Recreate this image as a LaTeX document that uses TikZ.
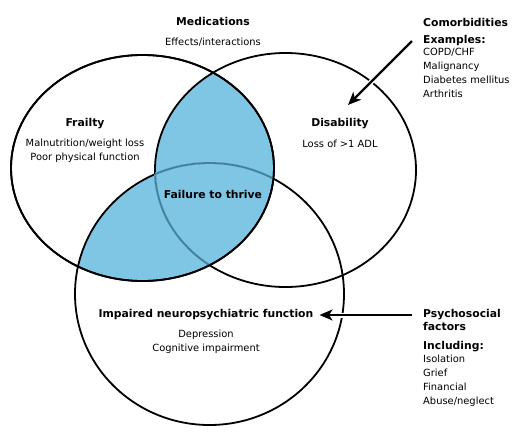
\documentclass[tikz,border=0pt]{standalone}
\usepackage{fontspec}
\setmainfont{DejaVu Sans}
\usetikzlibrary{arrows.meta,positioning}

\definecolor{fttblue}{HTML}{7FC6E4}
\definecolor{fttline}{HTML}{41819B}

\tikzset{
  venn/.style={line width=1.8pt},
  heading/.style={font=\bfseries\fontsize{10.8}{13}\selectfont, inner sep=0pt},
  note/.style={font=\fontsize{9.9}{14}\selectfont, inner sep=0pt},
  bigarrow/.style={line width=2.2pt, -{Stealth[length=13pt,width=11pt,inset=3.5pt]},
    preaction={draw=white, line width=5pt, -}}
}

\newcommand{\frailtyshape}{(142.5,168) ellipse [x radius=131.5pt, y radius=113pt]}
\newcommand{\disabshape}{(285.5,170) ellipse [x radius=130.5pt, y radius=117pt]}
\newcommand{\neuroshape}{(209.5,294) ellipse [x radius=134.5pt, y radius=131pt]}

\begin{document}
\begin{tikzpicture}[x=1pt, y=-1pt]
    \useasboundingbox (0,0) rectangle (520,440);

    % Shaded overlap (frailty with disability or neuro)
    \begin{scope}
        \clip \frailtyshape;
        \fill[fttblue] \disabshape \neuroshape;
    \end{scope}

    % Circles
    \draw[venn] \frailtyshape;
    \draw[venn] \disabshape;
    \draw[venn] \neuroshape;

    % Lines seen through the shading
    \begin{scope}
        \clip \frailtyshape;
        \clip \neuroshape;
        \draw[fttblue, line width=2.6pt] \disabshape;
        \draw[venn, fttline] \disabshape;
    \end{scope}
    \begin{scope}
        \clip \frailtyshape;
        \clip \disabshape;
        \draw[fttblue, line width=2.6pt] \neuroshape;
        \draw[venn, fttline] \neuroshape;
    \end{scope}
    \draw[venn] \frailtyshape;

    % Labels inside
    \node[heading] (meds) at (213,21) {Medications};
    \node[note] (medsnote) at (213,42) {Effects/interactions};
    \node[heading] (frailty) at (85,124) {Frailty};
    \node[note, align=center, anchor=north] (frailtynote) at (85,139) {Malnutrition/weight loss\\Poor physical function};
    \node[heading] (disab) at (340,124) {Disability};
    \node[note] (disabnote) at (340,144) {Loss of >1 ADL};
    \node[heading] (ftt) at (213,194) {Failure to thrive};
    \node[heading] (neuro) at (206,315) {Impaired neuropsychiatric function};
    \node[note, align=center, anchor=north] (neuronote) at (206,330) {Depression\\Cognitive impairment};

    % Side boxes
    \node[heading, anchor=west] (comor) at (423,22) {Comorbidities};
    \node[heading, anchor=west] (comorhead) at (423,41) {Examples:};
    \node[note, align=left, anchor=north west] (comorlist) at (423,48) {COPD/CHF\\Malignancy\\Diabetes mellitus\\Arthritis};
    \node[heading, align=left, anchor=north west] (psych) at (423,309) {Psychosocial\\factors};
    \node[heading, anchor=west] (psychhead) at (423,347) {Including:};
    \node[note, align=left, anchor=north west] (psychlist) at (423,355) {Isolation\\Grief\\Financial\\Abuse/neglect};

    % Arrows
    \coordinate (comorto) at (348,105);
    \coordinate (psychfrom) at (412,315);
    \draw[bigarrow] ([xshift=-11pt]comorhead.west) -- (comorto);
    \draw[bigarrow] (psychfrom) -- ([xshift=6pt]neuro.east);
\end{tikzpicture}
\end{document}
